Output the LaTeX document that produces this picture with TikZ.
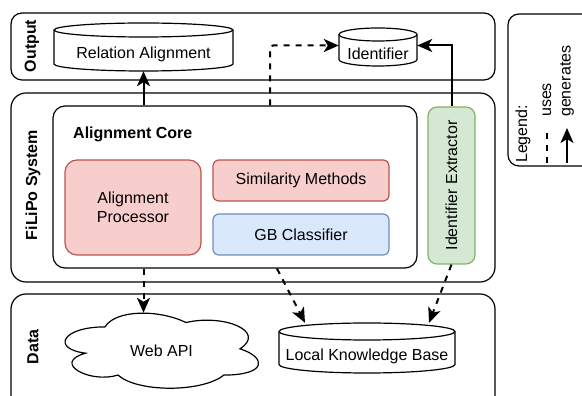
\documentclass[tikz,border=0pt]{standalone}
\usepackage{fontspec}
\usepackage{graphicx}
\setmainfont{Liberation Sans}
\usetikzlibrary{arrows.meta}
\definecolor{pinkF}{HTML}{F8CECC}
\definecolor{pinkD}{HTML}{B85450}
\definecolor{blueF}{HTML}{DAE8FC}
\definecolor{blueD}{HTML}{6C8EBF}
\definecolor{greenF}{HTML}{D5E8D4}
\definecolor{greenD}{HTML}{82B366}
\tikzset{
  base/.style={font=\fontsize{16}{19}\selectfont, inner sep=0pt, align=center},
  container/.style={base, draw=black, line width=1.2pt, rounded corners=12pt},
  boxpink/.style={base, draw=pinkD, fill=pinkF, line width=1.2pt},
  boxblue/.style={base, draw=blueD, fill=blueF, line width=1.2pt},
  boxgreen/.style={base, draw=greenD, fill=greenF, line width=1.2pt, rounded corners=9pt},
  cylline/.style={draw=black, line width=1.2pt},
  seclabel/.style={base, font=\fontsize{16}{19}\selectfont\bfseries},
  gen/.style={line width=2pt, -{Stealth[length=15pt,width=13pt,inset=4pt]}},
  uses/.style={line width=2pt, dash pattern=on 6pt off 6pt, -{Stealth[length=15pt,width=13pt,inset=4pt]}},
  usesplain/.style={line width=2pt, dash pattern=on 6pt off 6pt},
}
\begin{document}
\begin{tikzpicture}[x=1pt,y=1pt]
\useasboundingbox (0,0) rectangle (582,396);
\clip (0,0) rectangle (582,396);
% containers
\node[container, minimum width=484, minimum height=67, rounded corners=11pt] (outbox) at (253,349.5) {};
\node[container, minimum width=484, minimum height=189, rounded corners=15pt] (sysbox) at (253,208.5) {};
\node[container, minimum width=484, minimum height=122, rounded corners=15pt] (databox) at (253,41) {};
\node[container, minimum width=92, minimum height=152, rounded corners=11pt] (legbox) at (554,306) {};
% section labels
\node[seclabel] (outlbl) at (32,350) {\rotatebox{90}{Output}};
\node[seclabel] (syslbl) at (33,211) {\rotatebox{90}{FiLiPo System}};
\node[seclabel] (datalbl) at (33,49) {\rotatebox{90}{Data}};
% alignment core
\node[container, minimum width=364, minimum height=162, rounded corners=12pt] (core) at (235,209) {};
\node[seclabel, anchor=west] (coretitle) at (73,262) {Alignment Core};
\node[boxpink, rounded corners=12pt, minimum width=136, minimum height=95] (proc) at (133,188.5) {Alignment\\Processor};
\node[boxpink, rounded corners=6pt, minimum width=176, minimum height=41] (sim) at (301,215.5) {Similarity Methods};
\node[boxblue, rounded corners=6pt, minimum width=176, minimum height=41] (gb) at (301,161.5) {GB Classifier};
\node[boxgreen, minimum width=47, minimum height=157] (ext) at (451.5,210.5) {\rotatebox{90}{Identifier Extractor}};
% Relation Alignment cylinder
\draw[cylline, fill=white] (54,366) -- (54,332) arc[start angle=180,end angle=360,x radius=89.5,y radius=7] -- (233,366) arc[start angle=0,end angle=180,x radius=89.5,y radius=7] -- cycle;
\draw[cylline] (54,366) arc[start angle=180,end angle=360,x radius=89.5,y radius=7];
\node[base, minimum width=179, minimum height=34] (rel) at (143.5,342) {Relation Alignment};
% Identifier cylinder
\draw[cylline, fill=white] (339,361.5) -- (339,336.5) arc[start angle=180,end angle=360,x radius=39,y radius=6.5] -- (417,361.5) arc[start angle=0,end angle=180,x radius=39,y radius=6.5] -- cycle;
\draw[cylline] (339,361.5) arc[start angle=180,end angle=360,x radius=39,y radius=6.5];
\node[base, minimum width=78, minimum height=20] (ident) at (378,342.5) {Identifier};
% Local Knowledge Base cylinder
\draw[cylline, fill=white] (279,64.5) -- (279,31.5) arc[start angle=180,end angle=360,x radius=88,y radius=8.5] -- (455,64.5) arc[start angle=0,end angle=180,x radius=88,y radius=8.5] -- cycle;
\draw[cylline] (279,64.5) arc[start angle=180,end angle=360,x radius=88,y radius=8.5];
\node[base, minimum width=176, minimum height=67] (lkb) at (367,39.5) {Local Knowledge Base};
% Web API cloud
\begin{scope}[shift={(51,91)}, xscale=216, yscale=-87.6]
\draw[line width=1.2pt, fill=white] (0.25,0.25)
  .. controls (0.05,0.25) and (0,0.5) .. (0.16,0.55)
  .. controls (0,0.66) and (0.18,0.9) .. (0.31,0.8)
  .. controls (0.4,1) and (0.7,1) .. (0.8,0.8)
  .. controls (1,0.8) and (1,0.6) .. (0.875,0.5)
  .. controls (1,0.3) and (0.8,0.1) .. (0.625,0.2)
  .. controls (0.5,0.05) and (0.3,0.05) .. (0.25,0.25) -- cycle;
\end{scope}
\node[base, minimum width=193, minimum height=75] (web) at (161.5,45.5) {Web API};
% connectors
\draw[gen] (rel.south |- core.north) -- (rel.south);
\draw[uses, rounded corners=3pt] ([xshift=35pt]core.north) |- ([yshift=8pt]ident.west);
\draw[gen] (ext.north) |- ([yshift=8pt]ident.east);
\draw[uses] (rel.south |- core.south) -- (rel.south |- web.north);
\draw[uses] ([xshift=42pt]core.south) -- ([xshift=-62pt]lkb.north);
\draw[uses] (ext.south) -- ([xshift=62pt]lkb.north);
% legend
\node[base, anchor=south] (legtxt) at (523,233) {\rotatebox{90}{Legend:}};
\node[base, anchor=south] (usestxt) at (547,279) {\rotatebox{90}{uses}};
\node[base, anchor=south] (gentxt) at (567,279) {\rotatebox{90}{generates}};
\coordinate (lu1) at (547,233);
\coordinate (lu2) at (547,268);
\coordinate (lg1) at (567,233);
\coordinate (lg2) at (567,268);
\draw[usesplain] (lu1) -- (lu2);
\draw[gen] (lg1) -- (lg2);
\end{tikzpicture}
\end{document}
